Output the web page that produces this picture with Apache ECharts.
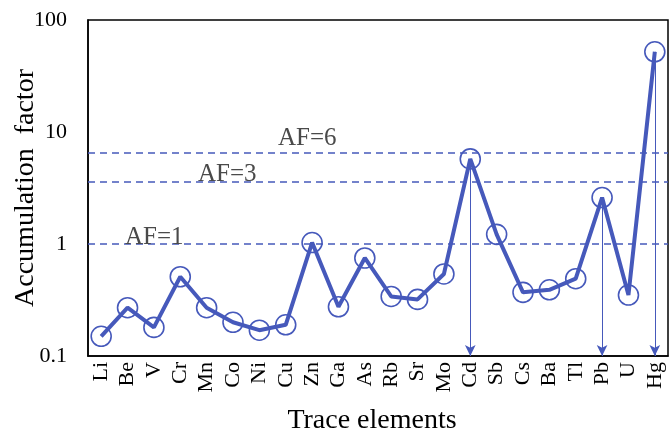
<!DOCTYPE html>
<html>
<head>
<meta charset="utf-8">
<script src="https://cdn.jsdelivr.net/npm/echarts@6/dist/echarts.min.js"></script>
<style>html,body{margin:0;padding:0;background:#fff;}#c{width:670px;height:434px;}</style>
</head>
<body>
<div id="c"></div>
<script>
var elements = ['Li','Be','V','Cr','Mn','Co','Ni','Cu','Zn','Ga','As','Rb','Sr','Mo','Cd','Sb','Cs','Ba','Tl','Pb','U','Hg'];
var afValues = [0.15,0.27,0.18,0.51,0.27,0.2,0.17,0.19,1.03,0.275,0.75,0.34,0.32,0.54,5.75,1.22,0.37,0.39,0.49,2.6,0.35,52];
var thresholdLabels = ['AF=1','AF=3','AF=6'];
var thresholdLevels = [1, 3.56, 6.53];
var arrowElements = ['Cd','Pb','Hg'];
var yTicks = [0.1, 1, 10, 100];

var blue = '#4659bb';
var font = "'Liberation Serif','Times New Roman',serif";

var labelPads = [43, 115, 188];
var labelDist = [-6, -5, 2];

var hLines = thresholdLevels.map(function (v, i) {
  return {
    yAxis: v,
    label: {
      show: true,
      formatter: thresholdLabels[i],
      position: 'insideStartTop',
      distance: labelDist[i],
      padding: [0, 0, 0, labelPads[i]],
      color: '#4a4a4a',
      fontFamily: font,
      fontSize: 25
    }
  };
});

var arrows = arrowElements.map(function (e) {
  var idx = elements.indexOf(e);
  return [
    { coord: [e, afValues[idx]], symbol: 'none' },
    { coord: [e, yTicks[0]], symbol: 'arrow', symbolSize: [8, 11] }
  ];
});

var chart = echarts.init(document.getElementById('c'), null, {renderer: 'canvas'});
chart.setOption({
  animation: false,
  grid: { left: 88, right: 2, top: 20, bottom: 78, outerBoundsMode: 'none', containLabel: false,
    show: true, borderColor: '#000', borderWidth: 1.5, backgroundColor: 'transparent' },
  xAxis: {
    type: 'category',
    data: elements,
    boundaryGap: true,
    axisLine: { show: true, lineStyle: { color: '#000', width: 1.5 } },
    axisTick: { show: false },
    axisLabel: { rotate: 90, fontSize: 22, fontFamily: font, color: '#000', margin: 6, interval: 0 },
    name: 'Trace elements',
    nameLocation: 'middle',
    nameGap: 51,
    nameMoveOverlap: false,
    nameTextStyle: { fontSize: 28, fontFamily: font, color: '#000', padding: [0, 12, 0, 0] }
  },
  yAxis: {
    type: 'log',
    logBase: 10,
    min: yTicks[0],
    max: yTicks[yTicks.length - 1],
    axisLine: { show: true, lineStyle: { color: '#000', width: 1.5 } },
    axisTick: { show: false },
    splitLine: { show: false },
    axisLabel: { fontSize: 22, fontFamily: font, color: '#000', margin: 21,
      formatter: function (v) { return String(+v.toPrecision(3)); } },
    name: 'Accumulation  factor',
    nameLocation: 'middle',
    nameGap: 48,
    nameMoveOverlap: false,
    nameTextStyle: { fontSize: 28, fontFamily: font, color: '#000' }
  },
  series: [{
    type: 'line',
    data: afValues,
    symbol: 'circle',
    symbolSize: 20,
    lineStyle: { color: blue, width: 4 },
    itemStyle: { color: 'rgba(255,255,255,0)', borderColor: blue, borderWidth: 1.6 },
    z: 3,
    markLine: {
      silent: true,
      symbol: 'none',
      lineStyle: { color: blue, width: 1.5, type: [7, 5] },
      data: hLines,
      z: 2
    }
  }, {
    type: 'line',
    data: [],
    markLine: {
      silent: true,
      symbol: ['none', 'arrow'],
      lineStyle: { color: blue, width: 1, type: 'solid' },
      label: { show: false },
      data: arrows
    }
  }]
});
</script>
</body>
</html>
